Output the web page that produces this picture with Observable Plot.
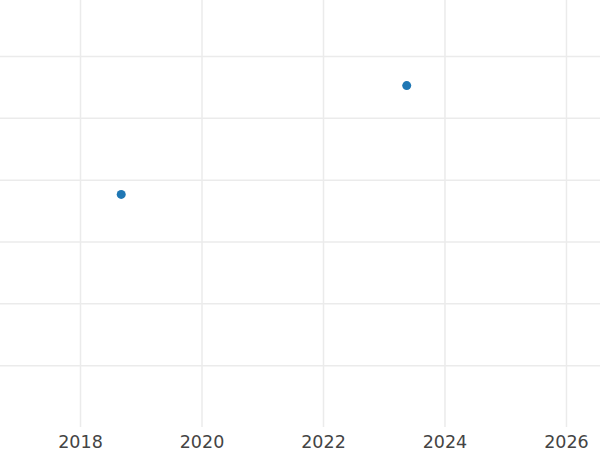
<!DOCTYPE html>
<html>
<head>
<meta charset="utf-8">
<script src="https://cdn.jsdelivr.net/npm/d3@7"></script>
<script src="https://cdn.jsdelivr.net/npm/@observablehq/plot@0.6"></script>
<style>
  html, body { margin: 0; padding: 0; background: #fff; }
  #chart svg { display: block; }
</style>
</head>
<body>
<div id="chart"></div>
<script>
// Data (y units unlabeled in the original)
const years = [2018.67, 2023.37];
const values = [3.77, 5.53];
const xTicks = [2018, 2020, 2022, 2024, 2026];
const yTicks = [1, 2, 3, 4, 5, 6];

const data = years.map((x, i) => ({ x, y: values[i] }));

const chart = Plot.plot({
  width: 600,
  height: 450,
  marginTop: 0,
  marginRight: 0,
  marginLeft: 0,
  marginBottom: 23,
  style: { fontFamily: "DejaVu Sans", fontSize: "17.5px", color: "#444", background: "#fff" },
  x: { domain: [2016.683, 2026.56], ticks: xTicks, tickFormat: "d" },
  y: { domain: [0, 6.906], ticks: yTicks },
  marks: [
    Plot.gridX(xTicks, { stroke: "#ebebeb", strokeOpacity: 1, strokeWidth: 1.5 }),
    Plot.gridY(yTicks, { stroke: "#ebebeb", strokeOpacity: 1, strokeWidth: 1.5 }),
    Plot.axisX(xTicks, { tickSize: 0, tickPadding: 8, tickFormat: "d", label: null, fill: "#444" }),
    Plot.axisY([], { label: null }),
    Plot.dot(data, { x: "x", y: "y", r: 4.5, fill: "#1f77b4", stroke: "none" })
  ]
});
document.getElementById("chart").appendChild(chart);
</script>
</body>
</html>
